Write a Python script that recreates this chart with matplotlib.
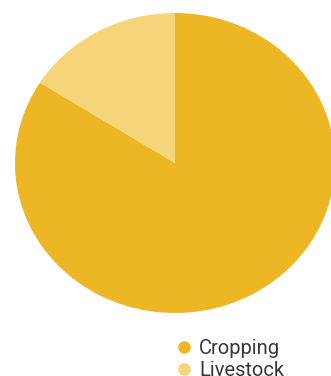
import matplotlib
matplotlib.use("Agg")
import matplotlib.pyplot as plt
from matplotlib.lines import Line2D

labels = ["Cropping", "Livestock"]
shares = [84, 16]
colors = ["#EDB624", "#F6D479"]

plt.rcParams["font.family"] = ["Roboto", "DejaVu Sans"]

fig = plt.figure(figsize=(3.31, 3.76), dpi=100)
ax = fig.add_axes([15 / 331, 63 / 376, 320 / 331, 300 / 376])
ax.pie(shares, colors=colors, startangle=90, counterclock=False, radius=1,
       wedgeprops={"linewidth": 0})
ax.set_aspect("auto")
ax.set_xlim(-1, 1)
ax.set_ylim(-1, 1)

handles = [Line2D([], [], marker="o", linestyle="", markersize=8,
                  markerfacecolor=c, markeredgecolor=c) for c in colors]
fig.legend(handles, labels, loc="upper left", bbox_to_anchor=(168 / 331, 1 - 329 / 376),
           frameon=False, fontsize=14.5, handlelength=0.6, handletextpad=0.45,
           labelspacing=0.15, borderpad=0, labelcolor="#383838")

fig.savefig("out.png", dpi=100)
